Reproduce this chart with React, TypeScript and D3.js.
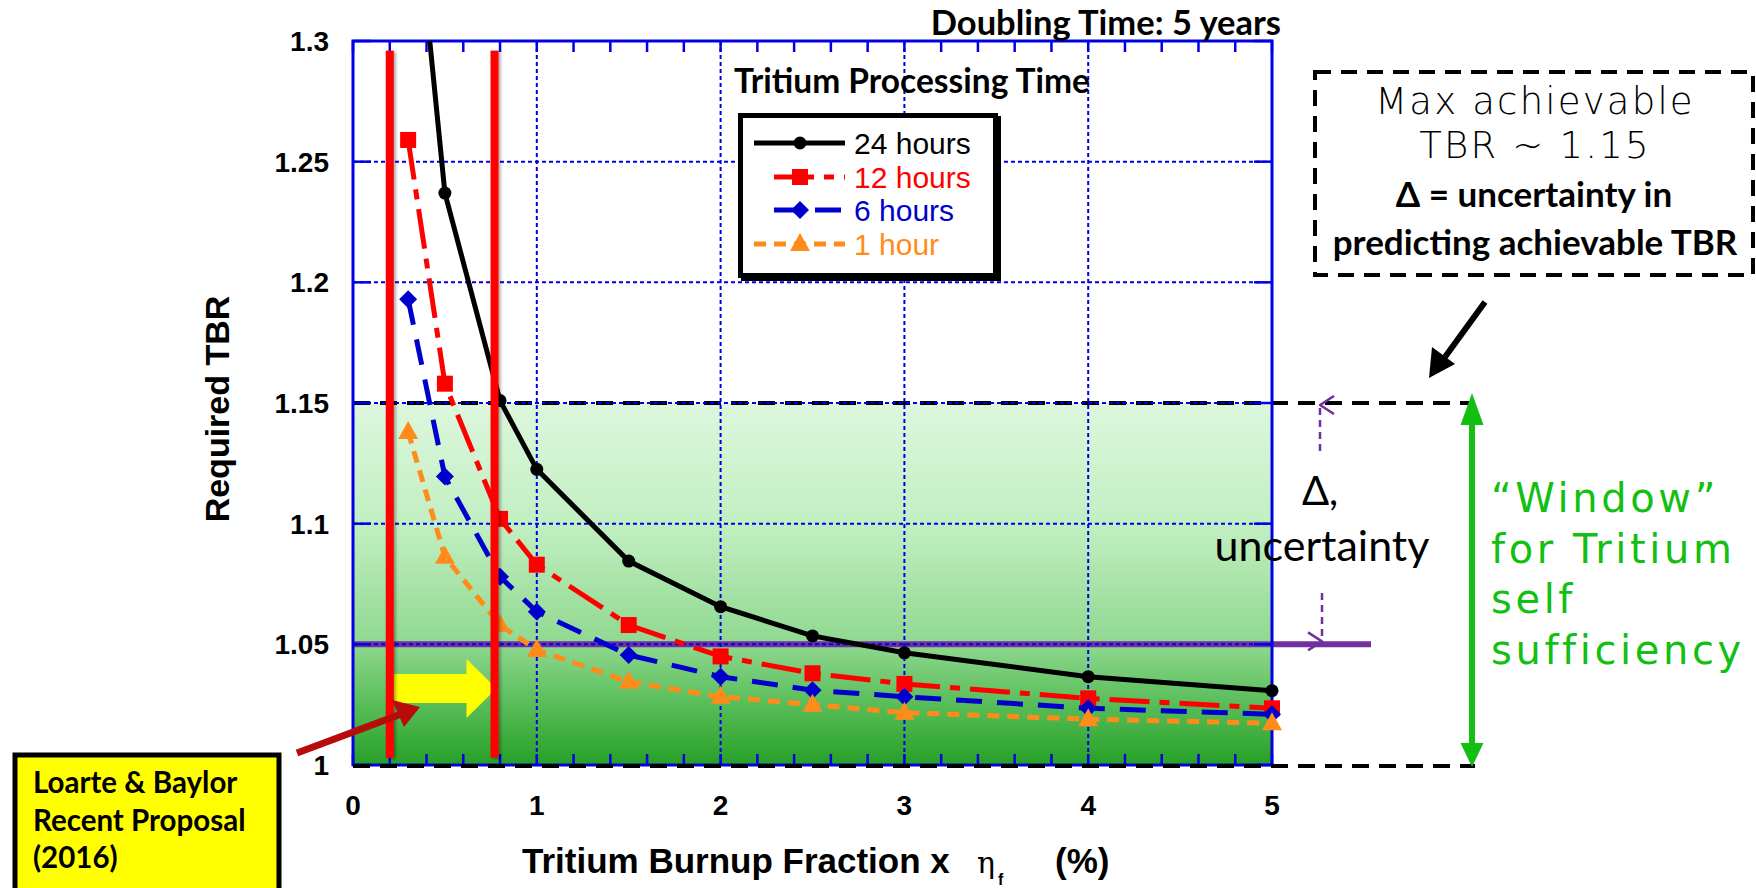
import React from 'react';
import * as d3 from 'd3';

// ---------- data ----------
const burnup = [0.3, 0.5, 0.8, 1, 1.5, 2, 2.5, 3, 4, 5];
const tbr24h = [1.39, 1.237, 1.151, 1.1225, 1.0845, 1.0656, 1.0535, 1.0465, 1.0366, 1.0308];
const tbr12h = [1.259, 1.158, 1.102, 1.083, 1.058, 1.045, 1.038, 1.0336, 1.0276, 1.0235];
const tbr6h = [1.193, 1.1195, 1.078, 1.0635, 1.0456, 1.0366, 1.031, 1.0283, 1.0235, 1.021];
const tbr1h = [1.138, 1.0863, 1.058, 1.0477, 1.0345, 1.0283, 1.025, 1.0217, 1.019, 1.0173];
const seriesNames = ['24 hours', '12 hours', '6 hours', '1 hour'];
const xTicks = [0, 1, 2, 3, 4, 5];
const xTickLabels = ['0', '1', '2', '3', '4', '5'];
const yTicks = [1, 1.05, 1.1, 1.15, 1.2, 1.25, 1.3];
const yTickLabels = ['1', '1.05', '1.1', '1.15', '1.2', '1.25', '1.3'];
const proposalBurnup = [0.2, 0.77];
const proposalTBR = [1.003, 1.296];
const maxAchievableTBR = 1.15;
const uncertaintyFloorTBR = 1.05;
const windowBottomTBR = 1.0;

// ---------- styles ----------
const styles = [
  { color: '#000000', dash: null, marker: 'circle' },
  { color: '#ff0000', dash: '40,10,10,10', marker: 'square' },
  { color: '#0000cc', dash: '26,15', marker: 'diamond' },
  { color: '#ff8c1a', dash: '12,8', marker: 'triangle' },
];
const seriesValues = [tbr24h, tbr12h, tbr6h, tbr1h];

const W = 1756, H = 888;
const L = 353, R = 1272, T = 41, B = 765;
const x = d3.scaleLinear().domain([0, 5]).range([L, R]);
const y = d3.scaleLinear().domain([1, 1.3]).range([B, T]);

const AXIS = '#0000e6';
const PURPLE = '#7030a0';
const GREEN = '#14bf14';
const ARIAL = '"Liberation Sans", Arial, sans-serif';
const CAL = 'Lato, "Open Sans", sans-serif';
const VERD = '"DejaVu Sans", Verdana, sans-serif';

function Marker({ type, cx, cy, color }: { type: string; cx: number; cy: number; color: string }) {
  if (type === 'circle') return <circle cx={cx} cy={cy} r={6.5} fill={color} />;
  if (type === 'square') return <rect x={cx - 8} y={cy - 8} width={16} height={16} fill={color} />;
  if (type === 'diamond')
    return <path d={`M${cx},${cy - 9}L${cx + 9},${cy}L${cx},${cy + 9}L${cx - 9},${cy}Z`} fill={color} />;
  return <path d={`M${cx},${cy - 11}L${cx + 10},${cy + 7}L${cx - 10},${cy + 7}Z`} fill={color} />;
}

function legendStart(i: number) {
  return i === 0 || i === 3 ? 754 : 774;
}

export default function App() {
  const line = d3
    .line<[number, number]>()
    .x((d) => x(d[0]))
    .y((d) => y(d[1]));
  const minorX = d3.range(0, 5.0001, 0.2);
  const legendRows = [143, 177, 210, 244];

  const y115 = y(maxAchievableTBR);
  const y105 = y(uncertaintyFloorTBR);
  const y100 = y(windowBottomTBR);

  // yellow arrow
  const ya0 = x(proposalBurnup[0]) + 4;
  const ya1 = x(proposalBurnup[1]) + 2;
  const yc = 688.5;
  const yellowPath = `M${ya0},${yc - 14.5}L${ya1 - 30},${yc - 14.5}L${ya1 - 30},${yc - 29.5}L${ya1},${yc}L${ya1 - 30},${yc + 29.5}L${ya1 - 30},${yc + 14.5}L${ya0},${yc + 14.5}Z`;

  return (
    <svg width={W} height={H} style={{ position: 'absolute', left: 0, top: 0, display: 'block' }}>
      <defs>
        <linearGradient id="gfill" x1="0" y1="0" x2="0" y2="1">
          <stop offset="0" stopColor="#ddf7dd" />
          <stop offset="0.333" stopColor="#c2efc2" />
          <stop offset="0.667" stopColor="#8fd88f" />
          <stop offset="0.833" stopColor="#58bd58" />
          <stop offset="1" stopColor="#26a026" />
        </linearGradient>
        <clipPath id="plotclip">
          <rect x={L - 20} y={T} width={R - L + 40} height={B - T + 20} />
        </clipPath>
        <filter id="shadow" filterUnits="userSpaceOnUse" x="0" y="0" width={W} height={H}>
          <feDropShadow dx="2" dy="1" stdDeviation="1.5" floodColor="#000" floodOpacity="0.35" />
        </filter>
        <marker id="pArrow" viewBox="0 0 20 16" refX="10" refY="1" markerWidth="20" markerHeight="16" markerUnits="userSpaceOnUse" orient="auto-start-reverse">
          <path d="M1,15L10,1L19,15" fill="none" stroke={PURPLE} strokeWidth="2.5" />
        </marker>
      </defs>

      {/* green window */}
      <rect x={L} y={y115} width={R - L} height={y100 - y115} fill="url(#gfill)" />

      {/* black dashed limit */}
      <line x1={L} x2={1469} y1={y115} y2={y115} stroke="#000" strokeWidth={4} strokeDasharray="17,10" />
      {/* purple 1.05 line */}
      <line x1={L} x2={1371} y1={y105} y2={y105} stroke={PURPLE} strokeWidth={6} />

      {/* grid */}
      {xTicks.slice(1, -1).map((t) => (
        <line key={'gx' + t} x1={x(t)} x2={x(t)} y1={T} y2={B} stroke={AXIS} strokeWidth={2} strokeDasharray="4,3" />
      ))}
      {yTicks.slice(1, -1).map((t) => (
        <line key={'gy' + t} x1={L} x2={R} y1={y(t)} y2={y(t)} stroke={AXIS} strokeWidth={2} strokeDasharray="4,3" />
      ))}

      {/* axes frame */}
      <rect x={L} y={T} width={R - L} height={B - T} fill="none" stroke={AXIS} strokeWidth={3} />
      {minorX.map((t, i) => (
        <g key={'mx' + i}>
          <line x1={x(t)} x2={x(t)} y1={T} y2={T + 11} stroke={AXIS} strokeWidth={2.5} />
          <line x1={x(t)} x2={x(t)} y1={B} y2={B - 11} stroke={AXIS} strokeWidth={2.5} />
        </g>
      ))}
      {yTicks.map((t) => (
        <g key={'my' + t}>
          <line x1={L} x2={L + 18} y1={y(t)} y2={y(t)} stroke={AXIS} strokeWidth={2.5} />
          <line x1={R} x2={R - 18} y1={y(t)} y2={y(t)} stroke={AXIS} strokeWidth={2.5} />
        </g>
      ))}
      <line x1={L} x2={1475} y1={y100 + 1} y2={y100 + 1} stroke="#000" strokeWidth={4} strokeDasharray="17,10" />

      {/* tick labels */}
      {yTicks.map((t, i) => (
        <text key={'yl' + t} x={329} y={y(t) + 10} textAnchor="end" fontFamily={ARIAL} fontWeight="bold" fontSize={28}>
          {yTickLabels[i]}
        </text>
      ))}
      {xTicks.map((t, i) => (
        <text key={'xl' + t} x={x(t)} y={815} textAnchor="middle" fontFamily={ARIAL} fontWeight="bold" fontSize={28}>
          {xTickLabels[i]}
        </text>
      ))}

      {/* axis titles */}
      <text x={522} y={873} fontFamily={ARIAL} fontWeight="bold" fontSize={35}>Tritium Burnup Fraction x</text>
      <text x={977} y={873} fontFamily='"DejaVu Serif", serif' fontSize={30}>η</text>
      <text x={998} y={885} fontFamily={ARIAL} fontWeight="bold" fontSize={16}>f</text>
      <text x={1055} y={873} fontFamily={ARIAL} fontWeight="bold" fontSize={35}>(%)</text>
      <text transform="translate(229,409) rotate(-90)" textAnchor="middle" fontFamily={ARIAL} fontWeight="bold" fontSize={34}>
        Required TBR
      </text>

      {/* yellow arrow */}
      <path d={yellowPath} fill="#ffff00" />

      {/* series */}
      <g clipPath="url(#plotclip)">
        {seriesValues.map((vals, si) => {
          const pts = burnup.map((b, i) => [b, vals[i]] as [number, number]);
          return (
            <g key={'s' + si}>
              <path d={line(pts) || ''} fill="none" stroke={styles[si].color} strokeWidth={5} strokeDasharray={styles[si].dash || undefined} />
              {pts.map((p, i) => (
                <Marker key={i} type={styles[si].marker} cx={x(p[0])} cy={y(p[1])} color={styles[si].color} />
              ))}
            </g>
          );
        })}
      </g>

      {/* red proposal lines */}
      {proposalBurnup.map((b) => (
        <rect key={'rl' + b} x={x(b) - 4} y={y(proposalTBR[1])} width={8} height={y(proposalTBR[0]) - y(proposalTBR[1])} fill="#ff0000" filter="url(#shadow)" />
      ))}

      {/* titles */}
      <text x={1281} y={35} textAnchor="end" fontFamily={CAL} fontWeight="bold" fontSize={34.5}>Doubling Time: 5 years</text>
      <text x={734} y={93} fontFamily={CAL} fontWeight="bold" fontSize={33.5}>Tritium Processing Time</text>

      {/* legend */}
      <rect x={741} y={116} width={260} height={165} fill="#000" />
      <rect x={740.5} y={115.5} width={255} height={160} fill="#fff" stroke="#000" strokeWidth={5} />
      {seriesNames.map((n, i) => (
        <g key={'lg' + i}>
          <line x1={legendStart(i)} x2={845} y1={legendRows[i]} y2={legendRows[i]} stroke={styles[i].color} strokeWidth={5} strokeDasharray={styles[i].dash || undefined} />
          <Marker type={styles[i].marker} cx={800} cy={legendRows[i]} color={styles[i].color} />
          <text x={854} y={legendRows[i] + 10.5} fontFamily={ARIAL} fontSize={30} fill={i === 0 ? '#000' : styles[i].color}>
            {n}
          </text>
        </g>
      ))}

      {/* max achievable box */}
      <rect x={1315} y={72} width={438} height={203} fill="none" stroke="#000" strokeWidth={4} strokeDasharray="16,10" />
      <text x={1535} y={114} textAnchor="middle" fontFamily={VERD} fontWeight={200} fontSize={37} letterSpacing={2.2}>Max achievable</text>
      <text x={1535} y={158} textAnchor="middle" fontFamily={VERD} fontWeight={200} fontSize={37} letterSpacing={2.2}>TBR ~ 1.15</text>
      <text x={1534} y={207} textAnchor="middle" fontFamily={CAL} fontWeight="bold" fontSize={35}>Δ = uncertainty in</text>
      <text x={1535} y={255} textAnchor="middle" fontFamily={CAL} fontWeight="bold" fontSize={35}>predicting achievable TBR</text>

      {/* black arrow */}
      <line x1={1485} y1={302} x2={1445} y2={357} stroke="#000" strokeWidth={6} />
      <path d="M1429,378L1432,347L1455,364Z" fill="#000" />

      {/* uncertainty annotations */}
      <line x1={1320} x2={1320} y1={451} y2={y115 + 2} stroke={PURPLE} strokeWidth={2.5} strokeDasharray="7,5" markerEnd="url(#pArrow)" />
      <line x1={1322} x2={1322} y1={593} y2={y105 - 3} stroke={PURPLE} strokeWidth={2.5} strokeDasharray="7,5" markerEnd="url(#pArrow)" />
      <text x={1320} y={505} textAnchor="middle" fontFamily={CAL} fontSize={40}>Δ,</text>
      <text x={1322} y={561} textAnchor="middle" fontFamily={CAL} fontSize={43}>uncertainty</text>

      {/* green window arrow */}
      <line x1={1472} x2={1472} y1={y115 + 20} y2={y100 - 20} stroke={GREEN} strokeWidth={6} />
      <path d={`M1472,${y115 - 10}L1483.5,${y115 + 22}L1460.5,${y115 + 22}Z`} fill={GREEN} />
      <path d={`M1472,${y100 + 2}L1483.5,${y100 - 22}L1460.5,${y100 - 22}Z`} fill={GREEN} />
      {['“Window”', 'for Tritium', 'self', 'sufficiency'].map((s, i) => (
        <text key={'gw' + i} x={1491} y={512 + i * 50.5} fontFamily={VERD} fontSize={40} letterSpacing={3.6} fill={GREEN}>
          {s}
        </text>
      ))}

      {/* proposal callout */}
      <line x1={297} y1={753} x2={400} y2={714.5} stroke="#b80b0b" strokeWidth={7} />
      <path d="M420,707L392,700L404,727Z" fill="#b80b0b" />
      <rect x={15} y={755} width={264} height={140} fill="#ffff00" stroke="#000" strokeWidth={5} />
      {['Loarte & Baylor', 'Recent Proposal', '(2016)'].map((s, i) => (
        <text key={'lb' + i} x={33} y={793 + i * 37.5} fontFamily={CAL} fontWeight="bold" fontSize={29.5}>
          {s}
        </text>
      ))}
    </svg>
  );
}
